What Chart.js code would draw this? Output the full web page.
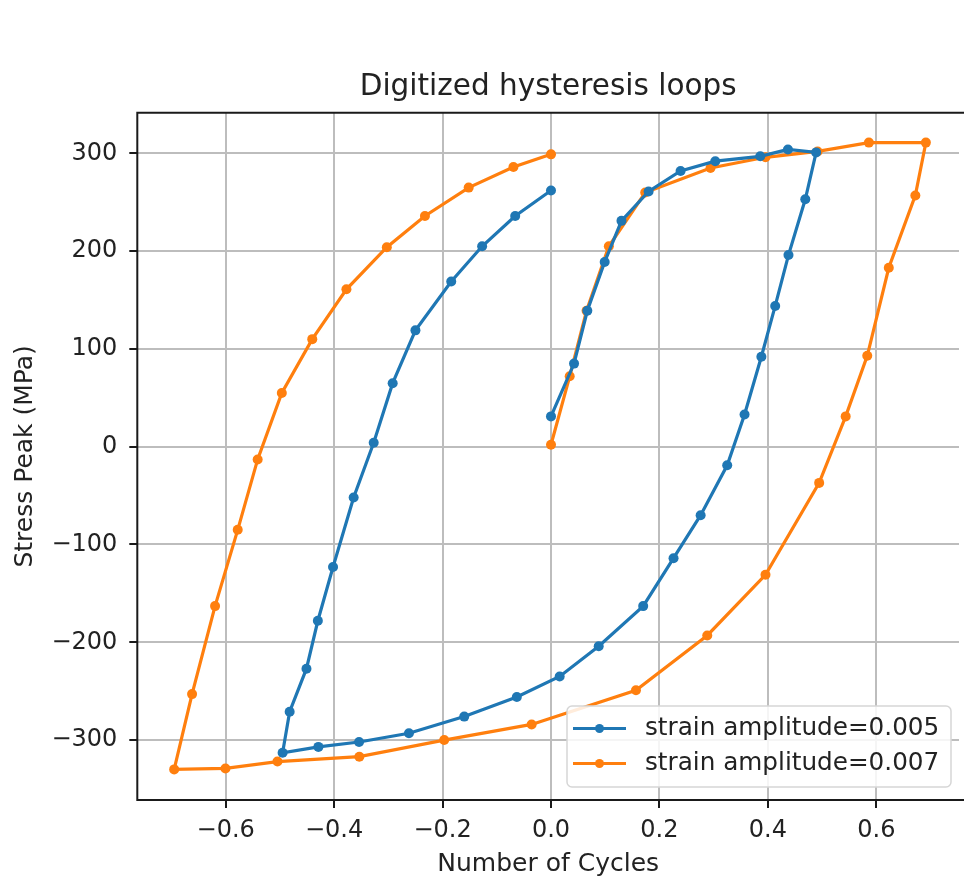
<!DOCTYPE html>
<html><head><meta charset="utf-8">
<script src="https://cdn.jsdelivr.net/npm/chart.js@4/dist/chart.umd.min.js"></script>
<style>html,body{margin:0;padding:0;background:#fff;overflow:hidden}</style>
</head><body>
<canvas id="c" width="964" height="893"></canvas>
<script>
const chartTitle = 'Digitized hysteresis loops';
const xAxisTitle = 'Number of Cycles';
const yAxisTitle = 'Stress Peak (MPa)';
const seriesLabels = ['strain amplitude=0.005', 'strain amplitude=0.007'];

const amp005X = [0, 0.0425, 0.067, 0.099, 0.13, 0.18, 0.239, 0.303, 0.386, 0.437, 0.489, 0.469, 0.438, 0.4135, 0.388, 0.357, 0.325, 0.276, 0.226, 0.170, 0.088, 0.016, -0.063, -0.160, -0.262, -0.354, -0.429, -0.495, -0.482, -0.451, -0.430, -0.402, -0.364, -0.327, -0.292, -0.250, -0.184, -0.127, -0.066, 0];
const amp005Y = [31, 85, 139, 189, 231, 261, 282, 292, 297, 304, 301, 253, 196, 144, 92, 33, -19, -70, -114, -163, -204, -235, -256, -276, -293, -302, -307, -313, -271, -227, -178, -123, -52, 4, 65, 119, 169, 205, 236, 262];

const amp007X = [0, 0.0345, 0.0656, 0.1067, 0.1738, 0.2942, 0.3956, 0.4917, 0.5863, 0.6914, 0.672, 0.623, 0.5833, 0.5435, 0.4946, 0.3956, 0.2882, 0.1567, -0.0357, -0.197, -0.3535, -0.5045, -0.6004, -0.695, -0.662, -0.6196, -0.5778, -0.541, -0.4965, -0.4403, -0.3773, -0.3028, -0.2325, -0.1518, -0.0693, 0];
const amp007Y = [2, 72, 139, 205, 260, 285, 296, 302, 311, 311, 257, 183, 93, 31, -37, -131, -193, -249, -284, -300, -317, -322, -329, -330, -253, -163, -85, -13, 55, 110, 161, 204, 236, 265, 286, 299];

const xTicks = [-0.6, -0.4, -0.2, 0.0, 0.2, 0.4, 0.6];
const yTicks = [-300, -200, -100, 0, 100, 200, 300];

const FONT = 'DejaVu Sans';
const TEXT = '#222222';
const COLORS = ['#1f77b4', '#ff7f0e'];

function toPoints(xs, ys) { return xs.map((x, i) => ({x: x, y: ys[i]})); }
function fmt(v, d) { const s = Math.abs(v).toFixed(d); return (v < 0 ? '\u2212' : '') + s; }

const framePlugin = {
  id: 'frame',
  afterDraw(chart) {
    const {ctx, chartArea: a} = chart;
    ctx.save();
    ctx.strokeStyle = '#1a1a1a';
    ctx.lineWidth = 2;
    ctx.beginPath();
    ctx.moveTo(a.right + 5, a.top);
    ctx.lineTo(a.left, a.top);
    ctx.lineTo(a.left, a.bottom);
    ctx.lineTo(a.right + 5, a.bottom);
    ctx.stroke();
    ctx.restore();
  }
};

const legendPlugin = {
  id: 'boxLegend',
  afterDraw(chart) {
    const {ctx, chartArea: a} = chart;
    const w = 384, h = 81;
    const x0 = a.right - 8 - w, y0 = a.bottom - 13 - h;
    ctx.save();
    ctx.beginPath();
    ctx.roundRect(x0, y0, w, h, 5);
    ctx.fillStyle = 'rgba(255,255,255,0.85)';
    ctx.fill();
    ctx.strokeStyle = '#d6d6d6';
    ctx.lineWidth = 1.5;
    ctx.stroke();
    chart.data.datasets.forEach((ds, i) => {
      const cy = y0 + 22.5 + i * 35;
      ctx.strokeStyle = ds.borderColor;
      ctx.lineWidth = 3.2;
      ctx.beginPath();
      ctx.moveTo(x0 + 6, cy);
      ctx.lineTo(x0 + 59, cy);
      ctx.stroke();
      ctx.fillStyle = ds.borderColor;
      ctx.beginPath();
      ctx.arc(x0 + 32.5, cy, 4.5, 0, Math.PI * 2);
      ctx.fill();
      ctx.fillStyle = TEXT;
      ctx.font = '24.7px "' + FONT + '"';
      ctx.textBaseline = 'middle';
      ctx.textAlign = 'left';
      ctx.fillText(ds.label, x0 + 78, cy);
    });
    ctx.restore();
  }
};

new Chart(document.getElementById('c'), {
  type: 'scatter',
  data: {
    datasets: [
      {label: seriesLabels[0], data: toPoints(amp005X, amp005Y), borderColor: COLORS[0], backgroundColor: COLORS[0]},
      {label: seriesLabels[1], data: toPoints(amp007X, amp007Y), borderColor: COLORS[1], backgroundColor: COLORS[1]}
    ]
  },
  options: {
    responsive: false,
    animation: false,
    events: [],
    datasets: {
      scatter: {showLine: true, borderWidth: 3.2, tension: 0, pointRadius: 5, pointBorderWidth: 0}
    },
    layout: {padding: {left: 0, right: 0, top: 0, bottom: 0}},
    plugins: {
      legend: {display: false},
      tooltip: {enabled: false},
      title: {
        display: true, text: chartTitle, fullSize: false, color: TEXT,
        font: {family: FONT, size: 29.5, weight: 'normal', lineHeight: 1.2},
        padding: {top: 70, bottom: 7.3}
      }
    },
    scales: {
      x: {
        type: 'linear', min: -0.763, max: 0.7525,
        afterFit(s) { s.height = 93; },
        afterBuildTicks(s) { s.ticks = xTicks.map(v => ({value: v})); },
        grid: {color: '#bdbdbd', lineWidth: 2, tickLength: 8, tickColor: '#1a1a1a', tickWidth: 2},
        border: {display: false},
        ticks: {color: TEXT, font: {family: FONT, size: 24}, padding: 8, maxRotation: 0, callback: v => fmt(v, 1)},
        title: {display: true, text: xAxisTitle, color: TEXT, font: {family: FONT, size: 25, lineHeight: 1.2}, padding: {top: 0, bottom: 14}}
      },
      y: {
        type: 'linear', min: -361.3, max: 341.6,
        afterFit(s) { s.width = 137.3; },
        afterBuildTicks(s) { s.ticks = yTicks.map(v => ({value: v})); },
        grid: {color: '#bdbdbd', lineWidth: 2, tickLength: 8, tickColor: '#1a1a1a', tickWidth: 2},
        border: {display: false},
        ticks: {color: TEXT, font: {family: FONT, size: 24}, padding: 12, callback: v => fmt(v, 0)},
        title: {display: true, text: yAxisTitle, color: TEXT, font: {family: FONT, size: 25, lineHeight: 1.2}, padding: {top: 10, bottom: 0}}
      }
    }
  },
  plugins: [framePlugin, legendPlugin]
});
</script>
</body></html>
